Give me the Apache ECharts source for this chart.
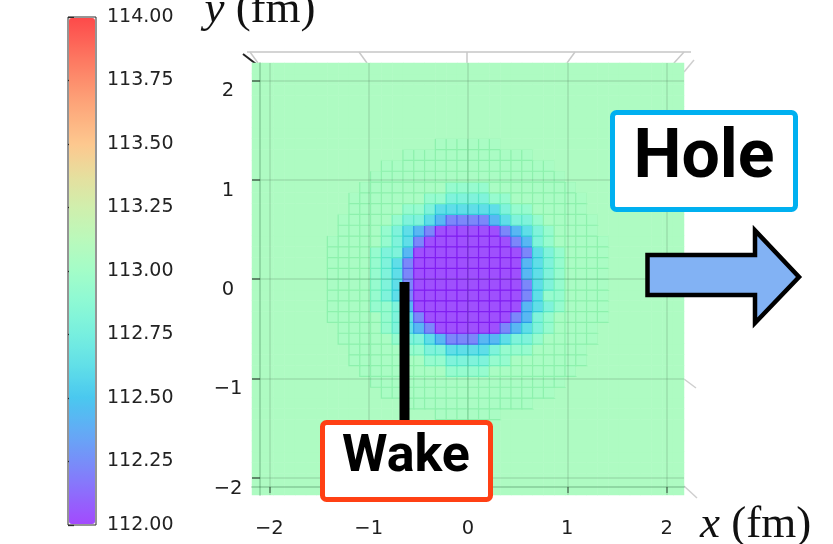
<!DOCTYPE html>
<html>
<head>
<meta charset="utf-8">
<script src="https://cdn.jsdelivr.net/npm/echarts@6/dist/echarts.min.js"></script>
<style>
  html, body { margin: 0; padding: 0; background: #ffffff; }
  #chart { width: 833px; height: 544px; }
</style>
</head>
<body>
<div id="chart"></div>
<script>
// Temperature of the medium (MeV) on the transverse lattice around a moving quark.
const cellSize = 0.10875;        // fm, lattice spacing
const cellsPerSide = 40;         // lattice is 40 x 40, centred on the origin
const background = 113.06;       // unperturbed medium temperature
const blockTopRow = 12;          // first row of centreRows is y-index +12
const blockFirstCol = -13;       // first column of centreRows is x-index -13

// Central block: rows from y-index +12 down to -13, columns x-index -13 .. +12
const centreRows = [
  [113.06,113.06,113.06,113.06,113.06,113.06,113.06,113.06,113.06,113.06,113.04,113.04,113.04,113.04,113.04,113.04,113.06,113.06,113.06,113.06,113.06,113.06,113.06,113.06,113.06,113.06],
  [113.06,113.06,113.06,113.06,113.06,113.06,113.06,113.04,113.04,113.04,113.04,113.04,113.04,113.04,113.04,113.04,113.04,113.04,113.04,113.06,113.06,113.06,113.06,113.06,113.06,113.06],
  [113.06,113.06,113.06,113.06,113.06,113.04,113.04,113.04,113.04,113.04,113.04,113.04,113.04,113.04,113.04,113.04,113.04,113.04,113.04,113.04,113.04,113.06,113.06,113.06,113.06,113.06],
  [113.06,113.06,113.06,113.06,113.04,113.04,113.04,113.04,113.04,113.04,113.04,113.04,113.04,113.04,113.04,113.04,113.04,113.04,113.04,113.04,113.04,113.04,113.06,113.06,113.06,113.06],
  [113.06,113.06,113.06,113.04,113.04,113.04,113.04,113.04,113.04,113.04,113.04,112.93,112.93,112.93,112.93,113.04,113.04,113.04,113.04,113.04,113.04,113.04,113.04,113.06,113.06,113.06],
  [113.06,113.06,113.04,113.04,113.04,113.04,113.04,113.04,113.04,112.93,112.93,112.8,112.8,112.8,112.8,112.93,112.93,113.04,113.04,113.04,113.04,113.04,113.04,113.04,113.06,113.06],
  [113.06,113.06,113.04,113.04,113.04,113.04,113.04,112.93,112.93,112.8,112.62,112.62,112.62,112.62,112.62,112.62,112.8,112.93,112.93,113.04,113.04,113.04,113.04,113.04,113.06,113.06],
  [113.06,113.04,113.04,113.04,113.04,113.04,112.93,112.8,112.8,112.62,112.42,112.22,112.22,112.22,112.22,112.42,112.62,112.8,112.8,112.93,113.04,113.04,113.04,113.04,113.04,113.06],
  [113.06,113.04,113.04,113.04,113.04,112.93,112.8,112.62,112.42,112.22,112.02,112.02,112.02,112.02,112.02,112.02,112.22,112.42,112.62,112.8,112.93,113.04,113.04,113.04,113.04,113.06],
  [113.04,113.04,113.04,113.04,113.04,112.93,112.8,112.62,112.22,112.02,112.02,112.02,112.02,112.02,112.02,112.02,112.02,112.22,112.42,112.8,112.93,113.04,113.04,113.04,113.04,113.04],
  [113.04,113.04,113.04,113.04,112.93,112.8,112.8,112.42,112.02,112.02,112.02,112.02,112.02,112.02,112.02,112.02,112.02,112.02,112.22,112.62,112.8,112.93,113.04,113.04,113.04,113.04],
  [113.04,113.04,113.04,113.04,112.93,112.8,112.62,112.22,112.02,112.02,112.02,112.02,112.02,112.02,112.02,112.02,112.02,112.02,112.42,112.62,112.8,112.93,113.04,113.04,113.04,113.04],
  [113.04,113.04,113.04,113.04,112.93,112.8,112.62,112.22,112.02,112.02,112.02,112.02,112.02,112.02,112.02,112.02,112.02,112.02,112.42,112.62,112.8,112.93,113.04,113.04,113.04,113.04],
  [113.04,113.04,113.04,113.04,112.93,112.8,112.62,112.22,112.02,112.02,112.02,112.02,112.02,112.02,112.02,112.02,112.02,112.02,112.22,112.62,112.8,112.93,113.04,113.04,113.04,113.04],
  [113.04,113.04,113.04,113.04,112.93,112.8,112.62,112.22,112.02,112.02,112.02,112.02,112.02,112.02,112.02,112.02,112.02,112.02,112.22,112.62,112.93,112.93,113.04,113.04,113.04,113.04],
  [113.04,113.04,113.04,113.04,112.93,112.93,112.8,112.42,112.02,112.02,112.02,112.02,112.02,112.02,112.02,112.02,112.02,112.02,112.42,112.62,112.8,112.93,113.04,113.04,113.04,113.04],
  [113.04,113.04,113.04,113.04,113.04,112.93,112.8,112.62,112.22,112.02,112.02,112.02,112.02,112.02,112.02,112.02,112.02,112.22,112.42,112.8,112.93,113.04,113.04,113.04,113.04,113.04],
  [113.06,113.04,113.04,113.04,113.04,112.93,112.8,112.62,112.42,112.22,112.02,112.02,112.02,112.02,112.02,112.02,112.22,112.42,112.62,112.8,112.93,113.04,113.04,113.04,113.04,113.06],
  [113.06,113.04,113.04,113.04,113.04,113.04,112.93,112.8,112.8,112.62,112.42,112.22,112.22,112.22,112.42,112.42,112.62,112.8,112.8,112.93,113.04,113.04,113.04,113.04,113.04,113.06],
  [113.06,113.06,113.04,113.04,113.04,113.04,113.04,112.93,112.93,112.8,112.8,112.62,112.62,112.62,112.62,112.8,112.93,112.93,112.93,113.04,113.04,113.04,113.04,113.04,113.06,113.06],
  [113.06,113.06,113.04,113.04,113.04,113.04,113.04,113.04,113.04,112.93,112.93,112.8,112.8,112.8,112.8,112.93,112.93,113.04,113.04,113.04,113.04,113.04,113.04,113.04,113.06,113.06],
  [113.06,113.06,113.06,113.04,113.04,113.04,113.04,113.04,113.04,113.04,113.04,112.93,112.93,112.93,112.93,113.04,113.04,113.04,113.04,113.04,113.04,113.04,113.04,113.06,113.06,113.06],
  [113.06,113.06,113.06,113.06,113.04,113.04,113.04,113.04,113.04,113.04,113.04,113.04,113.04,113.04,113.04,113.04,113.04,113.04,113.04,113.04,113.04,113.04,113.06,113.06,113.06,113.06],
  [113.06,113.06,113.06,113.06,113.06,113.04,113.04,113.04,113.04,113.04,113.04,113.04,113.04,113.04,113.04,113.04,113.04,113.04,113.04,113.04,113.04,113.06,113.06,113.06,113.06,113.06],
  [113.06,113.06,113.06,113.06,113.06,113.06,113.06,113.04,113.04,113.04,113.04,113.04,113.04,113.04,113.04,113.04,113.04,113.04,113.04,113.06,113.06,113.06,113.06,113.06,113.06,113.06],
  [113.06,113.06,113.06,113.06,113.06,113.06,113.06,113.06,113.06,113.06,113.04,113.04,113.04,113.04,113.04,113.04,113.06,113.06,113.06,113.06,113.06,113.06,113.06,113.06,113.06,113.06]
];

const axisTicks = [-2, -1, 0, 1, 2];          // fm
const colorbarMin = 112.0;
const colorbarMax = 114.0;
const colorbarStep = 0.25;

// ---- colour map: "rainbow" faces drawn with alpha 0.7 over a light pane ----
const paneGrey = 0.97;
function rainbow(t, alpha, shade) {
  const r = Math.min(1, Math.abs(2 * t - 0.5));
  const g = Math.sin(Math.PI * t);
  const b = Math.cos(Math.PI * t / 2);
  const mix = c => Math.round(255 * shade * (alpha * c + (1 - alpha) * paneGrey));
  return 'rgb(' + mix(r) + ',' + mix(g) + ',' + mix(b) + ')';
}
const rampColors = [];
for (let k = 0; k <= 16; k++) rampColors.push(rainbow(k / 16, 0.7, 1));
// overlapping face edges: same colour, denser alpha, slightly darker
function edgeColor(v) {
  return rainbow((v - colorbarMin) / (colorbarMax - colorbarMin), 0.9, 0.95);
}

// ---- lattice cells ----
const half = cellsPerSide / 2;
const cellCentres = [];
for (let n = 0; n < cellsPerSide; n++) cellCentres.push(((n - half + 0.5) * cellSize).toFixed(3));

const heatData = [];
for (let yi = 0; yi < cellsPerSide; yi++) {
  const row = centreRows[blockTopRow - (yi - half)];
  for (let xi = 0; xi < cellsPerSide; xi++) {
    const c = (xi - half) - blockFirstCol;
    const v = (row && c >= 0 && c < row.length) ? row[c] : background;
    if (v < background) {
      heatData.push({ value: [xi, yi, v], itemStyle: { borderColor: edgeColor(v), borderWidth: 1.2 } });
    } else {
      heatData.push([xi, yi, v]);
    }
  }
}

const span = half * cellSize;
const tickFont = 'DejaVu Sans';
const gridLineStyle = { color: 'rgba(60,95,70,0.13)', width: 2 };
const frameLine = { color: 'rgba(20,80,40,0.2)', width: 2 };
const minusFmt = v => (v < 0 ? '\u2212' + Math.abs(v) : String(v));

const chart = echarts.init(document.getElementById('chart'), null, { renderer: 'canvas' });

chart.setOption({
  animation: false,
  backgroundColor: '#ffffff',
  grid: [
    { left: 252, top: 63, width: 432, height: 432, outerBoundsMode: 'none', containLabel: false },
    { left: 68, top: 17, width: 28, height: 508, outerBoundsMode: 'none', containLabel: false,
      show: true, borderColor: '#2a2a2a', borderWidth: 1, backgroundColor: 'transparent' }
  ],
  xAxis: [
    { type: 'category', gridIndex: 0, data: cellCentres, show: false },
    {
      type: 'value', gridIndex: 0, min: -span, max: span, position: 'bottom', offset: -8, z: 3,
      axisLine: { show: true, lineStyle: frameLine },
      axisTick: { show: true, length: 6, customValues: axisTicks, lineStyle: { color: 'rgba(40,60,45,0.45)', width: 2 } },
      axisLabel: {
        customValues: axisTicks, margin: 32,
        fontFamily: tickFont, fontSize: 19.5, color: '#1e1e1e', formatter: minusFmt
      },
      splitLine: { show: true, lineStyle: gridLineStyle },
      name: '{it|x} (fm)', nameLocation: 'end', nameGap: 16,
      nameTextStyle: {
        fontFamily: 'Liberation Serif', fontSize: 45, color: '#111', verticalAlign: 'middle', padding: [76, 0, 0, 0],
        rich: { it: { fontFamily: 'Liberation Serif', fontStyle: 'italic', fontSize: 45, color: '#111' } }
      }
    },
    { type: 'value', gridIndex: 1, min: 0, max: 1, show: false }
  ],
  yAxis: [
    { type: 'category', gridIndex: 0, data: cellCentres, show: false },
    {
      type: 'value', gridIndex: 0, min: -span, max: span, position: 'left', offset: -8, z: 3,
      axisLine: { show: true, lineStyle: frameLine },
      axisTick: { show: true, length: 8, customValues: axisTicks, lineStyle: { color: 'rgba(40,60,45,0.55)', width: 2 } },
      axisLabel: {
        customValues: axisTicks, margin: 32,
        align: 'center', verticalAlign: 'top', lineHeight: 22,
        fontFamily: tickFont, fontSize: 19.5, color: '#1e1e1e', formatter: minusFmt
      },
      splitLine: { show: true, lineStyle: gridLineStyle },
      name: '{it|y} (fm)', nameLocation: 'end', nameGap: 30,
      nameTextStyle: {
        fontFamily: 'Liberation Serif', fontSize: 45, color: '#111', align: 'center', verticalAlign: 'bottom',
        rich: { it: { fontFamily: 'Liberation Serif', fontStyle: 'italic', fontSize: 45, color: '#111' } }
      }
    },
    {
      type: 'value', gridIndex: 1, min: colorbarMin, max: colorbarMax, interval: colorbarStep, position: 'right',
      axisLine: { show: false },
      axisTick: { show: true, length: 6, lineStyle: { color: '#2a2a2a', width: 1.3 } },
      axisLabel: { margin: 11, fontFamily: tickFont, fontSize: 19, color: '#222', formatter: v => v.toFixed(2) },
      splitLine: { show: false }
    }
  ],
  visualMap: {
    type: 'continuous', min: colorbarMin, max: colorbarMax, seriesIndex: 0, dimension: 2,
    calculable: false, hoverLink: false, padding: 0,
    left: 69, top: 18, itemWidth: 26, itemHeight: 506,
    inRange: { color: rampColors }
  },
  series: [{
    type: 'heatmap', xAxisIndex: 0, yAxisIndex: 0, data: heatData,
    emphasis: { disabled: true }, z: 2
  }],
  graphic: [
    // receding pane edges of the box
    { type: 'polyline', shape: { points: [[247, 52], [691, 52]] }, style: { stroke: '#d4d4d4', lineWidth: 2, fill: null }, z: 1, silent: true },
    { type: 'polyline', shape: { points: [[258, 63], [250, 52]] }, style: { stroke: '#c9c9c9', lineWidth: 1.5, fill: null }, z: 1, silent: true },
    { type: 'polyline', shape: { points: [[367, 63], [359, 52]] }, style: { stroke: '#c9c9c9', lineWidth: 1.5, fill: null }, z: 1, silent: true },
    { type: 'polyline', shape: { points: [[467, 63], [467, 52]] }, style: { stroke: '#c9c9c9', lineWidth: 1.5, fill: null }, z: 1, silent: true },
    { type: 'polyline', shape: { points: [[567, 63], [575, 52]] }, style: { stroke: '#c9c9c9', lineWidth: 1.5, fill: null }, z: 1, silent: true },
    { type: 'polyline', shape: { points: [[674, 63], [684, 52]] }, style: { stroke: '#c9c9c9', lineWidth: 1.5, fill: null }, z: 1, silent: true },
    { type: 'polyline', shape: { points: [[684, 72], [694, 60]] }, style: { stroke: '#cfcfcf', lineWidth: 1.5, fill: null }, z: 1, silent: true },
    { type: 'polyline', shape: { points: [[684, 379], [696, 388]] }, style: { stroke: '#cfcfcf', lineWidth: 1.5, fill: null }, z: 1, silent: true },
    { type: 'polyline', shape: { points: [[684, 486], [697, 498]] }, style: { stroke: '#cfcfcf', lineWidth: 1.5, fill: null }, z: 1, silent: true },
    { type: 'polyline', shape: { points: [[243, 54], [256, 64]] }, style: { stroke: '#222', lineWidth: 2, fill: null }, z: 1, silent: true },

    // "Hole" label and direction of motion
    { type: 'rect', shape: { x: 612.5, y: 112.5, width: 183, height: 97, r: 4 }, style: { fill: '#ffffff', stroke: '#00b0f0', lineWidth: 5 }, z: 20, silent: true },
    { type: 'text', x: 704, y: 160, style: { text: 'Hole', font: 'bold 68px Roboto', fill: '#000', align: 'center', verticalAlign: 'middle' }, z: 21, silent: true },
    { type: 'polygon', shape: { points: [[647.5, 255], [755, 255], [755, 230.5], [799, 277], [755, 323], [755, 295], [647.5, 295]] },
      style: { fill: '#82b2f4', stroke: '#000', lineWidth: 4.5, lineJoin: 'miter' }, z: 20, silent: true },

    // "Wake" label with its pointer
    { type: 'rect', shape: { x: 399.5, y: 282, width: 10, height: 142 }, style: { fill: '#000' }, z: 20, silent: true },
    { type: 'rect', shape: { x: 322.5, y: 422.5, width: 168, height: 77, r: 4 }, style: { fill: '#ffffff', stroke: '#ff4014', lineWidth: 5 }, z: 20, silent: true },
    { type: 'text', x: 406, y: 458, style: { text: 'Wake', font: 'bold 52px Roboto', fill: '#000', align: 'center', verticalAlign: 'middle' }, z: 21, silent: true }
  ]
});
</script>
</body>
</html>
